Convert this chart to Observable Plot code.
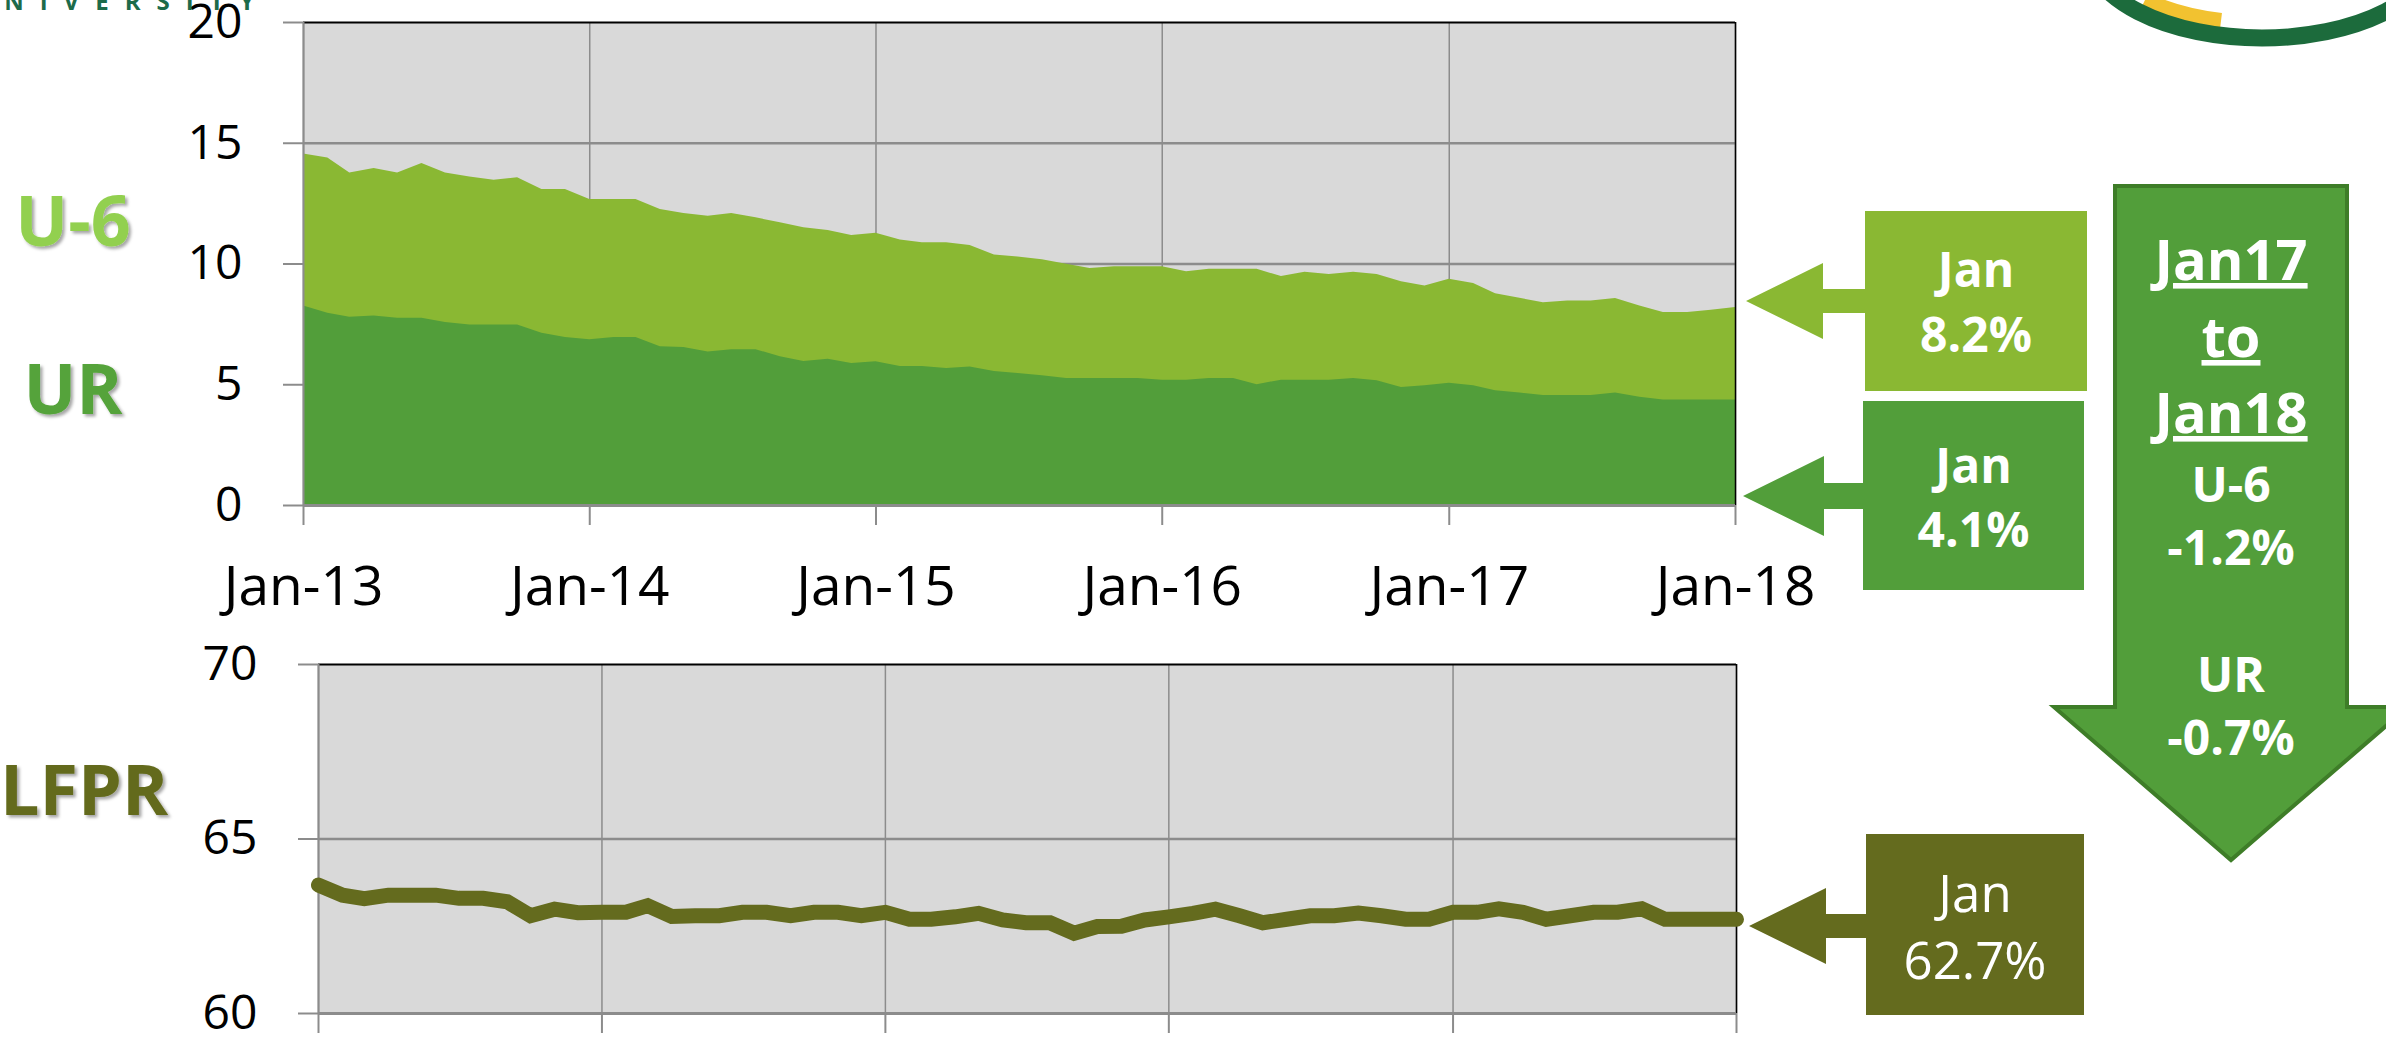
<!DOCTYPE html>
<html><head><meta charset="utf-8">
<script src="https://cdn.jsdelivr.net/npm/d3@7"></script>
<script src="https://cdn.jsdelivr.net/npm/@observablehq/plot@0.6"></script>
<style>
html,body{margin:0;padding:0;background:#fff;width:2386px;height:1037px;overflow:hidden;font-family:"Open Sans",sans-serif;}
#stage{position:relative;width:2386px;height:1037px;overflow:hidden;background:#fff;}
#stage svg{position:absolute;left:0;}
</style></head><body><div id="stage"></div>
<script>
// ---------- DATA ----------
const months = d3.timeMonth.range(new Date(2013,0,1), new Date(2018,1,1)); // Jan-13 .. Jan-18 (61)
const yearTicks = d3.timeYear.range(new Date(2013,0,1), new Date(2018,1,1));
const xTickLabels = ["Jan-13","Jan-14","Jan-15","Jan-16","Jan-17","Jan-18"];
const u6Ticks = [0,5,10,15,20];
const lfprTicks = [60,65,70];

const u6 = [14.56,14.39,13.77,13.95,13.77,14.16,13.77,13.6,13.47,13.57,13.09,13.09,
12.67,12.67,12.67,12.26,12.09,11.98,12.09,11.91,11.71,11.5,11.39,11.18,
11.27,10.99,10.88,10.88,10.77,10.37,10.29,10.18,9.99,9.81,9.89,9.89,
9.89,9.68,9.78,9.78,9.78,9.48,9.66,9.57,9.66,9.57,9.27,9.09,
9.37,9.19,8.77,8.58,8.4,8.47,8.47,8.57,8.26,7.99,7.99,8.09,
8.2];
const ur = [8.26,7.96,7.8,7.85,7.75,7.75,7.58,7.47,7.47,7.47,7.13,6.96,
6.86,6.96,6.96,6.57,6.54,6.36,6.45,6.45,6.16,5.96,6.06,5.88,
5.95,5.76,5.76,5.67,5.74,5.55,5.47,5.37,5.26,5.26,5.26,5.26,
5.19,5.19,5.26,5.26,5.0,5.19,5.19,5.19,5.26,5.17,4.89,4.96,
5.06,4.96,4.75,4.66,4.55,4.55,4.55,4.66,4.48,4.37,4.37,4.37,
4.37];
const lfpr = [63.68,63.39,63.29,63.39,63.39,63.39,63.3,63.3,63.2,62.8,62.99,62.89,
62.9,62.9,63.09,62.78,62.8,62.8,62.9,62.9,62.8,62.9,62.9,62.8,
62.9,62.7,62.7,62.77,62.87,62.68,62.6,62.6,62.3,62.49,62.5,62.68,
62.77,62.87,62.99,62.8,62.6,62.7,62.8,62.8,62.88,62.8,62.7,62.7,
62.9,62.9,63.0,62.9,62.7,62.8,62.9,62.9,63.0,62.7,62.7,62.7,
62.7];

const seriesNames = ["U-6","UR","LFPR"];
const calloutText = [["Jan","8.2%"],["Jan","4.1%"],["Jan","62.7%"]];
const changeText = [["Jan17","to","Jan18"],["U-6","-1.2%"],["UR","-0.7%"]];

// ---------- CHARTS ----------
const data = months.map((d,i)=>({date:d,u6:u6[i],ur:ur[i],lfpr:lfpr[i]}));
const fmtX = d => xTickLabels[yearTicks.findIndex(t => +t === +d)];
const W = 1760, GRID = "#8C8C8C", BG = "#D9D9D9";
const xDomain = [months[0], months[months.length-1]];

const topChart = Plot.plot({
  width: W, height: 630,
  marginLeft: 303, marginRight: W-1735, marginTop: 22, marginBottom: 125,
  style: {fontFamily: "'Open Sans', sans-serif", background: "transparent", overflow: "visible", color: "#000"},
  x: {type: "time", domain: xDomain},
  y: {domain: [0,20]},
  marks: [
    Plot.frame({fill: BG, stroke: "none"}),
    Plot.gridX(yearTicks, {stroke: GRID, strokeOpacity: 1, strokeWidth: 1.5}),
    Plot.gridY([5,10,15], {stroke: GRID, strokeOpacity: 1, strokeWidth: 2.5}),
    Plot.areaY(data, {x: "date", y: "u6", fill: "#8AB833"}),
    Plot.areaY(data, {x: "date", y: "ur", fill: "#529E3A"}),
    Plot.ruleY([20], {stroke: "#000", strokeWidth: 2}),
    Plot.ruleX([xDomain[1]], {stroke: "#000", strokeWidth: 1.5}),
    Plot.ruleX([xDomain[0]], {stroke: GRID, strokeWidth: 2}),
    Plot.ruleY([0], {stroke: GRID, strokeWidth: 3}),
    Plot.axisY(u6Ticks, {tickSize: 20, tickPadding: 41, fontSize: 48, stroke: GRID, strokeWidth: 2, fill: "#000", label: null}),
    Plot.axisX(yearTicks, {tickSize: 20, tickPadding: 40, fontSize: 55, tickFormat: fmtX, stroke: GRID, strokeWidth: 2, fill: "#000", label: null})
  ]
});
topChart.style.top = "0px";

const bottomChart = Plot.plot({
  width: W, height: 417,
  marginLeft: 318, marginRight: W-1736, marginTop: 44, marginBottom: 24,
  style: {fontFamily: "'Open Sans', sans-serif", background: "transparent", overflow: "visible", color: "#000"},
  x: {type: "time", domain: xDomain},
  y: {domain: [60,70]},
  marks: [
    Plot.frame({fill: BG, stroke: "none"}),
    Plot.gridX(yearTicks, {stroke: GRID, strokeOpacity: 1, strokeWidth: 1.5}),
    Plot.gridY([65], {stroke: GRID, strokeOpacity: 1, strokeWidth: 2.5}),
    Plot.ruleY([70], {stroke: "#000", strokeWidth: 2}),
    Plot.ruleX([xDomain[1]], {stroke: "#000", strokeWidth: 1.5}),
    Plot.ruleX([xDomain[0]], {stroke: GRID, strokeWidth: 2}),
    Plot.ruleY([60], {stroke: GRID, strokeWidth: 3}),
    Plot.line(data, {x: "date", y: "lfpr", stroke: "#646B1E", strokeWidth: 15, strokeLinejoin: "miter", strokeMiterlimit: 3}),
    Plot.axisY(lfprTicks, {tickSize: 20, tickPadding: 41, fontSize: 48, stroke: GRID, strokeWidth: 2, fill: "#000", label: null}),
    Plot.axisX(yearTicks, {tickSize: 20, tickFormat: () => "", stroke: GRID, strokeWidth: 2, label: null})
  ]
});
bottomChart.style.top = "620px";

const stage = document.getElementById("stage");
stage.appendChild(topChart);
stage.appendChild(bottomChart);

// ---------- ANNOTATIONS ----------
const ov = d3.create("svg").attr("width", 2386).attr("height", 1037)
  .attr("viewBox", "0 0 2386 1037").style("top", "0px")
  .style("font-family", "'Open Sans', sans-serif");
const defs = ov.append("defs");
const f = defs.append("filter").attr("id","sh").attr("x","-20%").attr("y","-20%").attr("width","140%").attr("height","140%");
f.append("feDropShadow").attr("dx",2.5).attr("dy",2.5).attr("stdDeviation",1.8).attr("flood-color","#000").attr("flood-opacity",0.35);

// logo fragments
ov.append("text").attr("x",-30).attr("y",10).attr("fill","#1C6B4A").attr("font-size",24).attr("font-weight",700)
  .attr("letter-spacing",16).text("UNIVERSITY");
ov.append("path").attr("d","M2145 0 A160 76 0 0 0 2221 21").attr("fill","none").attr("stroke","#F2C230").attr("stroke-width",16);
ov.append("ellipse").attr("cx",2262).attr("cy",-52).attr("rx",175).attr("ry",90)
  .attr("fill","none").attr("stroke","#1C6B3C").attr("stroke-width",17);

// left series labels
const lab = [
  {t: seriesNames[0], x: 73, y: 246, c: "#92D050", a: "middle"},
  {t: seriesNames[1], x: 73, y: 414, c: "#55A33A", a: "middle"},
  {t: seriesNames[2], x: 0, y: 815, c: "#646B1E", a: "start"}
];
lab.forEach(l => ov.append("text").attr("x", l.x).attr("y", l.y).attr("text-anchor", l.a)
  .attr("fill", l.c).attr("font-size", 70).attr("font-weight", 700).attr("filter","url(#sh)").text(l.t));

// callout boxes with arrows
const callLayout = [
  {tipX:1746, cy:301, headX:1823, head:38, shaft:12, box:[1865,211,2087,391], base:[287,352], fill:"#8AB833", w:700, fs:48},
  {tipX:1743, cy:496, headX:1824, head:40, shaft:13, box:[1863,401,2084,590], base:[483,547], fill:"#529E3A", w:700, fs:48},
  {tipX:1749, cy:926, headX:1826, head:38, shaft:12, box:[1866,834,2084,1015], base:[912,979], fill:"#646B1E", w:400, fs:51}
];
callLayout.forEach((c, i) => {
  const [x0,y0,x1,y1] = c.box;
  ov.append("rect").attr("x",x0).attr("y",y0).attr("width",x1-x0).attr("height",y1-y0).attr("fill",c.fill);
  const pts = [[c.tipX,c.cy],[c.headX,c.cy-c.head],[c.headX,c.cy-c.shaft],[x0+1,c.cy-c.shaft],[x0+1,c.cy+c.shaft],[c.headX,c.cy+c.shaft],[c.headX,c.cy+c.head]];
  ov.append("polygon").attr("points", pts.map(p=>p.join(",")).join(" ")).attr("fill", c.fill);
  const cx = (x0+x1)/2;
  calloutText[i].forEach((t, j) => ov.append("text").attr("x",cx).attr("y",c.base[j]).attr("text-anchor","middle")
    .attr("fill","#fff").attr("font-size",c.fs).attr("font-weight",c.w).text(t));
});

// big down arrow
const A = {l:2115, r:2347, t:186, sb:707, hl:2054, hr:2408, tipX:2231, tipY:860};
ov.append("polygon").attr("points",
  [[A.l,A.t],[A.r,A.t],[A.r,A.sb],[A.hr,A.sb],[A.tipX,A.tipY],[A.hl,A.sb],[A.l,A.sb]].map(p=>p.join(",")).join(" "))
  .attr("fill","#529E3A").attr("stroke","#3E7D28").attr("stroke-width",4).attr("stroke-linejoin","miter");
const bigBase = [[280,357,433],[502,565],[692,755]];
changeText.forEach((grp, gi) => grp.forEach((t, j) => {
  const el = ov.append("text").attr("x",A.tipX).attr("y",bigBase[gi][j]).attr("text-anchor","middle")
    .attr("fill","#fff").attr("font-weight",700).attr("font-size", gi===0 ? 56 : 48).text(t);
  if (gi === 0) el.attr("text-decoration","underline");
}));

stage.appendChild(ov.node());
</script></body></html>
